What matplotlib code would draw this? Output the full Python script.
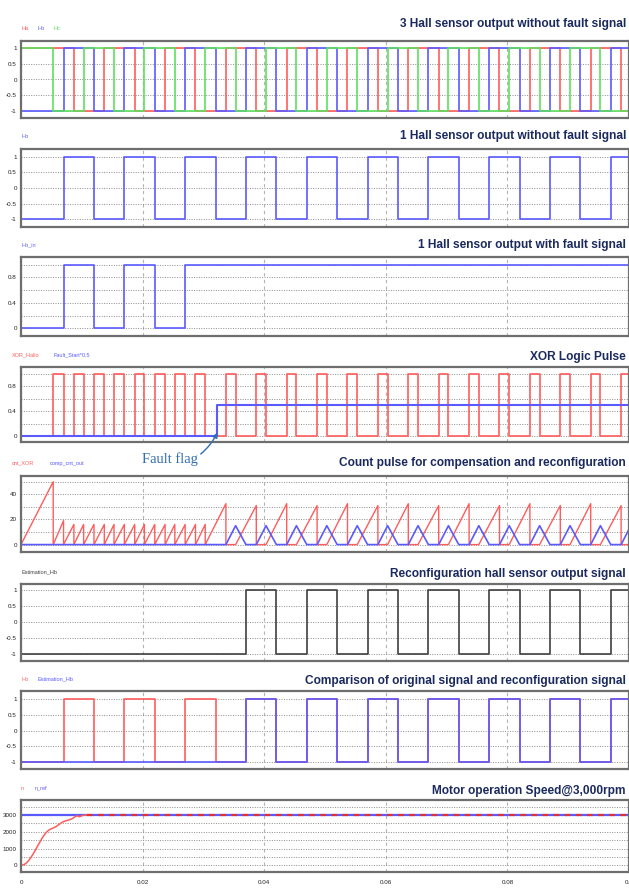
import matplotlib
matplotlib.use('Agg')
import matplotlib.pyplot as plt
from matplotlib.ticker import MultipleLocator

plt.rcParams['font.family'] = ['Liberation Sans Narrow', 'Liberation Sans', 'DejaVu Sans']

T_END = 0.1

# ---- hall sensor edges (s) ----
ha_init, hb_init, hc_init = 1, -1, 1
ha_edges = [0.0087, 0.0137, 0.0187, 0.0237, 0.0287, 0.0337, 0.0387, 0.0437, 0.0487, 0.0537,
            0.0587, 0.0637, 0.0687, 0.0737, 0.0787, 0.0837, 0.0887, 0.0937, 0.0987]
hb_edges = [0.0070, 0.0120, 0.0170, 0.0220, 0.0270, 0.0320, 0.0370, 0.0420, 0.0470, 0.0520,
            0.0570, 0.0620, 0.0670, 0.0720, 0.0770, 0.0820, 0.0870, 0.0920, 0.0970]
hc_edges = [0.0053, 0.0103, 0.0153, 0.0203, 0.0253, 0.0303, 0.0353, 0.0403, 0.0453, 0.0503,
            0.0553, 0.0603, 0.0653, 0.0703, 0.0753, 0.0803, 0.0853, 0.0903, 0.0953]

# hall B with stuck-high fault (0/1)
hb_in_init = 0
hb_in_edges = [0.0070, 0.0120, 0.0170, 0.0220, 0.0270]

# XOR pulse train and fault flag
xor_init = 0
xor_edges = [0.0053, 0.0070, 0.0087, 0.0103, 0.0120, 0.0137, 0.0153, 0.0170, 0.0187, 0.0203,
             0.0220, 0.0237, 0.0253, 0.0270, 0.0287, 0.0303, 0.0337, 0.0353, 0.0387, 0.0403,
             0.0437, 0.0453, 0.0487, 0.0503, 0.0537, 0.0553, 0.0587, 0.0603, 0.0637, 0.0653,
             0.0687, 0.0703, 0.0737, 0.0753, 0.0787, 0.0803, 0.0837, 0.0853, 0.0887, 0.0903,
             0.0937, 0.0953, 0.0987]
fault_time = 0.0323
fault_level = 0.5

# counter ramps (cnt_XOR): start, reset time, value at reset
cnt_start = [0.0, 0.0053, 0.0070, 0.0087, 0.0103, 0.0120, 0.0137, 0.0153, 0.0170, 0.0187,
             0.0203, 0.0220, 0.0237, 0.0253, 0.0270, 0.0287, 0.0303, 0.0353, 0.0403, 0.0453,
             0.0503, 0.0553, 0.0603, 0.0653, 0.0703, 0.0753, 0.0803, 0.0853, 0.0903, 0.0953]
cnt_stop = [0.0053, 0.0070, 0.0087, 0.0103, 0.0120, 0.0137, 0.0153, 0.0170, 0.0187, 0.0203,
            0.0220, 0.0237, 0.0253, 0.0270, 0.0287, 0.0303, 0.0337, 0.0387, 0.0437, 0.0487,
            0.0537, 0.0587, 0.0637, 0.0687, 0.0737, 0.0787, 0.0837, 0.0887, 0.0937, 0.0987]
cnt_peak = [50, 19, 16, 16, 16, 16, 16, 16, 16, 16,
            16, 16, 16, 16, 16, 16, 32.5, 31, 32.5, 31,
            32.5, 31, 32.5, 31, 32.5, 31, 32.5, 31, 32.5, 31]

# compensation counter triangles (comp_cnt_out)
comp_rise = [0.0337, 0.0387, 0.0437, 0.0487, 0.0537, 0.0587, 0.0637, 0.0687, 0.0737, 0.0787,
             0.0837, 0.0887, 0.0937, 0.0987]
comp_top = [0.0353, 0.0403, 0.0453, 0.0503, 0.0553, 0.0603, 0.0653, 0.0703, 0.0753, 0.0803,
            0.0853, 0.0903, 0.0953, 0.1003]
comp_end = [0.0370, 0.0420, 0.0470, 0.0520, 0.0570, 0.0620, 0.0670, 0.0720, 0.0770, 0.0820,
            0.0870, 0.0920, 0.0970, 0.1020]
comp_peak = [15, 15, 15, 15, 15, 15, 15, 15, 15, 15, 15, 15, 15, 15]

# reconfigured hall B
est_init = -1
est_edges = [0.0370, 0.0420, 0.0470, 0.0520, 0.0570, 0.0620, 0.0670, 0.0720, 0.0770, 0.0820,
             0.0870, 0.0920, 0.0970]

# speed (rpm)
n_t = [0.0, 0.0004, 0.0008, 0.0012, 0.0016, 0.0020, 0.0024, 0.0028, 0.0032, 0.0036, 0.0040,
       0.0044, 0.0048, 0.0053, 0.0058, 0.0063, 0.0068, 0.0073, 0.0078, 0.0083, 0.0088,
       0.0092, 0.0096, 0.0100, 0.0104, 0.0108]
n_v = [0, 30, 110, 260, 450, 680, 930, 1200, 1450, 1700, 1900,
       2050, 2150, 2230, 2320, 2450, 2580, 2650, 2700, 2760, 2880,
       2960, 2900, 2960, 3000, 3000]
n_ref = 3000

titles = ['3 Hall sensor output without fault signal',
          '1 Hall sensor output without fault signal',
          '1 Hall sensor output with fault signal',
          'XOR Logic Pulse',
          'Count pulse for compensation and reconfiguration',
          'Reconfiguration hall sensor output signal',
          'Comparison of original signal and reconfiguration signal',
          'Motor operation Speed@3,000rpm']

RED, BLUE, GREEN, BLACK = '#ff5c5c', '#5a5aff', '#5ee05e', '#404040'
NAVY = '#1b2a5e'

W, H = 629, 888
X0, X1 = 21, 629
# box top/bottom, title baseline, legend centre (pixels)
boxes = [(41, 118), (149, 227), (257, 336), (367, 442), (476, 552), (584, 661), (691, 769), (800, 872)]
title_y = [27, 139, 248, 360, 466, 577, 684, 794]
legend_y = [29, 137, 245, 355, 463, 572, 679, 788]


def square(init, edges, lo, hi):
    t = [0.0] + list(edges) + [T_END]
    lvl = [init]
    for _ in edges:
        lvl.append(hi if lvl[-1] == lo else lo)
    lvl.append(lvl[-1])
    return t, lvl


def setup(ax, ylim, major, labels, minor=None):
    ax.set_xlim(0, T_END)
    ax.set_ylim(*ylim)
    ax.set_yticks(major)
    ax.set_yticklabels(labels)
    if minor:
        ax.yaxis.set_minor_locator(MultipleLocator(minor))
    ax.set_xticks([0, 0.02, 0.04, 0.06, 0.08, 0.1])
    ax.set_xticklabels(['0', '0.02', '0.04', '0.06', '0.08', '0.1'])
    ax.tick_params(which='both', length=0, labelsize=4.5, pad=3, colors='#222222')
    ax.tick_params(axis='x', labelbottom=False)
    ax.set_axisbelow(True)
    ax.grid(axis='y', which='both', ls=(0, (1, 1.5)), color='#8c8c8c', lw=0.7)
    ax.grid(axis='x', which='major', ls=(0, (3, 3)), color='#b4b4b4', lw=0.8)
    for s in ax.spines.values():
        s.set_color('#6e6e6e')
        s.set_linewidth(1.6)


fig = plt.figure(figsize=(W / 100, H / 100), dpi=100)
axes = []
for top, bot in boxes:
    axes.append(fig.add_axes([X0 / W, 1 - bot / H, (X1 - X0) / W, (bot - top) / H]))

pm = ([-1, -0.5, 0, 0.5, 1], ['-1', '-0.5', '0', '0.5', '1'])
unit = ([0, 0.4, 0.8], ['0', '0.4', '0.8'])
LW = 1.2

# 1: three hall sensors
ax = axes[0]
for init, edges, c in [(ha_init, ha_edges, RED), (hb_init, hb_edges, BLUE), (hc_init, hc_edges, GREEN)]:
    t, v = square(init, edges, -1, 1)
    ax.step(t, v, where='post', color=c, lw=LW)
setup(ax, (-1.22, 1.22), *pm)

# 2: hall B
ax = axes[1]
t, v = square(hb_init, hb_edges, -1, 1)
ax.step(t, v, where='post', color=BLUE, lw=LW)
setup(ax, (-1.24, 1.24), *pm)

# 3: hall B with fault
ax = axes[2]
t, v = square(hb_in_init, hb_in_edges, 0, 1)
ax.step(t, v, where='post', color=BLUE, lw=LW)
setup(ax, (-0.12, 1.12), *unit, minor=0.2)

# 4: XOR pulses + fault flag
ax = axes[3]
t, v = square(xor_init, xor_edges, 0, 1)
ax.step(t, v, where='post', color=RED, lw=LW)
ax.step([0, fault_time, T_END], [0, fault_level, fault_level], where='post', color=BLUE, lw=LW + 0.3)
setup(ax, (-0.09, 1.11), *unit, minor=0.2)
ax.annotate('Fault flag', xy=(fault_time, 0.06), xycoords='data',
            xytext=(170 / W, 1 - 459 / H), textcoords='figure fraction',
            ha='center', va='center', fontsize=10.5, color='#2f6db5',
            family=['Liberation Serif', 'DejaVu Serif'], annotation_clip=False,
            arrowprops=dict(arrowstyle='-|>', color='#2f6db5', lw=1.0, mutation_scale=7,
                            relpos=(1.0, 0.7), shrinkA=0, shrinkB=0,
                            connectionstyle='arc3,rad=0.12'))

# 5: counters
ax = axes[4]
ct, cv = [0.0], [0.0]
for a, b, p in zip(cnt_start, cnt_stop, cnt_peak):
    ct += [a, b, b]
    cv += [0, p, 0]
ct.append(T_END)
cv.append(0)
ax.plot(ct, cv, color=RED, lw=1.0)
bt, bv = [0.0], [0.0]
for a, m, e, p in zip(comp_rise, comp_top, comp_end, comp_peak):
    bt += [a, m, e]
    bv += [0, p, 0]
ax.plot(bt, bv, color=BLUE, lw=1.2)
setup(ax, (-5.9, 54.5), [0, 20, 40], ['0', '20', '40'], minor=10)

# 6: estimated hall B
ax = axes[5]
t, v = square(est_init, est_edges, -1, 1)
ax.step(t, v, where='post', color=BLACK, lw=LW)
setup(ax, (-1.22, 1.18), *pm)

# 7: original vs reconfigured
ax = axes[6]
t, v = square(hb_init, hb_edges, -1, 1)
ax.step(t, v, where='post', color=RED, lw=LW)
t, v = square(est_init, est_edges, -1, 1)
ax.step(t, v, where='post', color=BLUE, lw=LW)
setup(ax, (-1.21, 1.25), *pm)

# 8: speed
ax = axes[7]
ax.plot([0, T_END], [n_ref, n_ref], color=BLUE, lw=1.6)
ax.plot(n_t, n_v, color=RED, lw=1.1)
ax.plot([n_t[-1], T_END], [n_v[-1], n_v[-1]], color='#e03030', lw=1.6, ls=(0, (2.5, 2.5)))
setup(ax, (-400, 3900), [0, 1000, 2000, 3000], ['0', '1000', '2000', '3000'], minor=500)
ax.tick_params(axis='x', labelbottom=True, pad=6)

# titles
for title, y in zip(titles, title_y):
    fig.text(626 / W, 1 - y / H, title, ha='right', va='baseline', fontsize=8.6,
             fontweight='bold', color=NAVY)

# little legend labels above each box
legends = [
    [('Ha', 21, RED), ('Hb', 38, BLUE), ('Hc', 54, GREEN)],
    [('Hb', 21, BLUE)],
    [('Hb_in', 21, BLUE)],
    [('XOR_Hallo', 12, RED), ('Fault_Start*0.5', 53, BLUE)],
    [('cnt_XOR', 12, RED), ('comp_cnt_out', 50, BLUE)],
    [('Estimation_Hb', 22, BLACK)],
    [('Hb', 22, RED), ('Estimation_Hb', 38, BLUE)],
    [('n', 21, RED), ('n_ref', 35, BLUE)],
]
for items, y in zip(legends, legend_y):
    for label, x, c in items:
        fig.text(x / W, 1 - y / H, label, ha='left', va='center', fontsize=4, color=c)

fig.savefig('out.png', dpi=100)
